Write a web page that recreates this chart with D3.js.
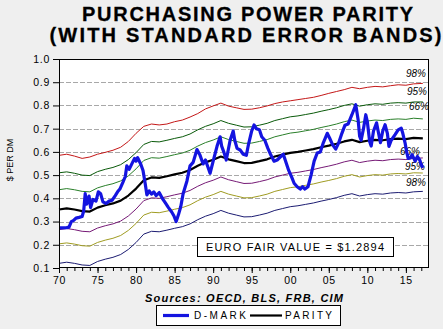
<!DOCTYPE html>
<html><head><meta charset="utf-8">
<script src="https://cdn.jsdelivr.net/npm/d3@7"></script>
<style>
html,body{margin:0;padding:0;background:#efefef;}
svg{display:block;font-family:"Liberation Sans",Arial,sans-serif;}
</style></head><body>
<svg id="c" width="443" height="329"></svg>
<script>
// ---------- DATA ----------
const titleLines = ["PURCHASING POWER PARITY", "(WITH STANDARD ERROR BANDS)"];
const yAxisLabel = "$ PER DM";
const sourceText = "Sources:  OECD, BLS, FRB, CIM";
const boxText = "EURO FAIR VALUE = $1.2894";
const legendLabels = ["D-MARK", "PARITY"];

const yTicks = [0.1,0.2,0.3,0.4,0.5,0.6,0.7,0.8,0.9,1.0];
const yGrid = [0.2,0.3,0.4,0.5,0.6,0.7,0.8,0.9];
const xMajorTicks = [1970,1975,1980,1985,1990,1995,2000,2005,2010,2015];
const xMajorLabels = ["70","75","80","85","90","95","00","05","10","15"];
const xMinorTicks = [1970,1971,1972,1973,1974,1975,1976,1977,1978,1979,1980,1981,1982,1983,1984,1985,1986,1987,1988,1989,1990,1991,1992,1993,1994,1995,1996,1997,1998,1999,2000,2001,2002,2003,2004,2005,2006,2007,2008,2009,2010,2011,2012,2013,2014,2015,2016,2017];

const bandYears = [1970,1971,1972,1973,1974,1975,1976,1977,1978,1979,
  1980,1981,1982,1983,1984,1985,1986,1987,1988,1989,
  1990,1991,1992,1993,1994,1995,1996,1997,1998,1999,
  2000,2001,2002,2003,2004,2005,2006,2007,2008,2009,
  2010,2011,2012,2013,2014,2015,2016,2017.2];

const parity = [.352,.357,.352,.345,.343,.360,.370,.378,.390,.412,
  .442,.478,.490,.488,.495,.503,.510,.522,.540,.555,
  .566,.580,.568,.560,.552,.553,.560,.568,.580,.588,
  .596,.600,.606,.612,.620,.627,.635,.645,.652,.642,
  .648,.652,.650,.655,.657,.655,.660,.658];

const band98Up = [.585,.590,.582,.572,.578,.590,.598,.607,.620,.645,
  .680,.710,.720,.716,.720,.730,.737,.750,.765,.785,
  .798,.810,.797,.790,.783,.784,.790,.798,.808,.815,
  .820,.825,.830,.835,.843,.852,.860,.868,.878,.872,
  .878,.882,.880,.885,.889,.887,.893,.895];

const band95Up = [.510,.514,.508,.500,.498,.515,.525,.533,.545,.567,
  .597,.632,.645,.643,.650,.658,.665,.677,.695,.710,
  .721,.735,.723,.715,.707,.708,.715,.723,.735,.743,
  .751,.755,.761,.767,.775,.782,.790,.800,.807,.797,
  .803,.807,.805,.810,.812,.810,.815,.815];

const band66Up = [.437,.442,.437,.430,.428,.445,.455,.463,.475,.497,
  .527,.563,.575,.573,.580,.588,.595,.607,.625,.640,
  .651,.665,.653,.645,.637,.638,.645,.653,.665,.673,
  .681,.685,.691,.697,.705,.712,.720,.730,.737,.727,
  .733,.737,.735,.740,.742,.740,.745,.742];

const band66Lo = [.265,.270,.265,.258,.256,.272,.282,.290,.302,.324,
  .354,.390,.402,.400,.407,.415,.422,.434,.452,.467,
  .478,.492,.480,.472,.464,.465,.472,.480,.492,.500,
  .508,.512,.518,.524,.532,.539,.547,.557,.564,.554,
  .560,.564,.562,.567,.569,.567,.572,.574];

const band95Lo = [.204,.208,.203,.196,.194,.210,.220,.228,.240,.262,
  .292,.328,.340,.338,.345,.353,.360,.372,.390,.405,
  .416,.430,.418,.410,.402,.403,.410,.418,.430,.438,
  .446,.450,.456,.462,.470,.477,.485,.495,.502,.492,
  .498,.502,.500,.505,.507,.505,.510,.509];

const band98Lo = [.120,.125,.120,.113,.111,.128,.138,.146,.158,.180,
  .210,.246,.258,.256,.263,.271,.278,.290,.308,.323,
  .334,.348,.336,.328,.320,.321,.328,.336,.348,.356,
  .364,.368,.374,.380,.388,.395,.403,.413,.420,.410,
  .416,.420,.418,.423,.425,.423,.428,.430];

// D-MARK: [year, $ per DM]
const dmark = [
 [1970.0,.273],[1971.0,.274],[1971.3,.276],[1971.6,.300],[1971.9,.305],[1972.2,.315],[1972.6,.318],[1973.0,.322],
 [1973.2,.345],[1973.4,.420],[1973.6,.375],[1973.9,.410],[1974.1,.360],[1974.4,.395],[1974.8,.388],[1975.1,.428],
 [1975.4,.420],[1975.7,.385],[1976.1,.378],[1976.5,.388],[1976.9,.392],[1977.3,.412],[1977.6,.428],[1977.9,.440],
 [1978.3,.470],[1978.6,.494],[1978.8,.540],[1979.1,.525],[1979.4,.545],[1979.8,.572],[1980.0,.560],[1980.2,.575],
 [1980.6,.548],[1980.9,.520],[1981.2,.460],[1981.4,.415],[1981.7,.432],[1982.0,.418],[1982.3,.428],[1982.6,.412],
 [1983.0,.425],[1983.4,.400],[1983.8,.380],[1984.2,.360],[1984.6,.342],[1984.9,.325],[1985.2,.300],[1985.5,.330],
 [1985.8,.365],[1986.1,.420],[1986.6,.475],[1987.0,.540],[1987.4,.555],[1987.9,.610],[1988.3,.585],[1988.7,.548],
 [1989.0,.565],[1989.6,.508],[1990.0,.560],[1990.5,.624],[1990.9,.665],[1991.1,.625],[1991.4,.598],[1991.7,.565],
 [1992.2,.650],[1992.6,.690],[1992.8,.650],[1993.1,.615],[1993.5,.608],[1993.9,.590],[1994.3,.585],[1994.6,.635],
 [1995.0,.690],[1995.3,.716],[1995.6,.700],[1996.0,.695],[1996.3,.665],[1996.7,.650],[1997.1,.615],[1997.5,.585],
 [1997.9,.560],[1998.3,.565],[1998.7,.578],[1999.1,.590],[1999.4,.560],[1999.8,.520],[2000.2,.490],[2000.5,.465],
 [2000.9,.450],[2001.3,.440],[2001.6,.450],[2001.9,.440],[2002.3,.450],[2002.7,.500],[2003.1,.560],[2003.5,.595],
 [2003.9,.600],[2004.3,.640],[2004.8,.680],[2005.1,.660],[2005.5,.630],[2005.9,.612],[2006.3,.640],[2006.7,.680],
 [2007.1,.715],[2007.5,.720],[2008.0,.760],[2008.5,.803],[2008.8,.740],[2009.0,.668],[2009.2,.650],[2009.5,.700],
 [2009.8,.760],[2010.0,.730],[2010.3,.645],[2010.5,.625],[2010.8,.690],[2011.2,.725],[2011.4,.690],[2011.7,.640],
 [2012.0,.690],[2012.3,.717],[2012.6,.680],[2012.8,.624],[2013.1,.650],[2013.6,.674],[2014.0,.695],[2014.4,.702],
 [2014.6,.680],[2014.9,.638],[2015.1,.600],[2015.3,.572],[2015.6,.575],[2015.8,.588],[2016.2,.560],[2016.5,.580],
 [2016.8,.565],[2017.0,.545],[2017.2,.531]
];

const bands = [
  {name:"98% up", values:band98Up, color:"#c41818", label:"98%", lx:426, ly:-6},
  {name:"95% up", values:band95Up, color:"#0a5a0a", label:"95%", lx:427, ly:-7},
  {name:"66% up", values:band66Up, color:"#2a7f2a", label:"66%", lx:429, ly:-9},
  {name:"66% lo", values:band66Lo, color:"#761a76", label:"66%", lx:420, ly:-3},
  {name:"95% lo", values:band95Lo, color:"#a09c22", label:"95%", lx:425, ly:-3},
  {name:"98% lo", values:band98Lo, color:"#1c1c72", label:"98%", lx:426, ly:-5}
];

// ---------- CHART ----------
const svg = d3.select("#c");
const W = 443, H = 329;
const L = 59, R = 429, T = 59, B = 268;
const x = d3.scaleLinear().domain([1970, 2018]).range([L, R]);
const y = d3.scaleLinear().domain([0.1, 1.0]).range([B, T]);

svg.append("rect").attr("width", W).attr("height", H).attr("fill", "#efefef");

// title
const tl = [{t:titleLines[0], cx:247.5, by:21, len:331}, {t:titleLines[1], cx:245.5, by:42, len:392}];
svg.selectAll("text.title").data(tl).join("text")
  .attr("class","title")
  .attr("x", d=>d.cx).attr("y", d=>d.by)
  .attr("text-anchor","middle")
  .attr("textLength", d=>d.len).attr("lengthAdjust","spacing")
  .attr("font-size", 20).attr("font-weight","bold").attr("fill","#000")
  .attr("stroke","#000").attr("stroke-width",0.3)
  .text(d=>d.t);

// plot background
svg.append("rect").attr("x", L).attr("y", T).attr("width", R-L).attr("height", B-T).attr("fill", "#fff");

// grid
svg.append("g").selectAll("line").data(yGrid).join("line")
  .attr("x1", L).attr("x2", R)
  .attr("y1", d=>Math.round(y(d))+0.5).attr("y2", d=>Math.round(y(d))+0.5)
  .attr("stroke", "#a8a8a8").attr("stroke-width", 1).attr("stroke-dasharray", "5,2");

// band lines
const line = d3.line().x(d=>x(d[0])).y(d=>y(d[1]));
const labelG = svg.append("g");
bands.forEach(b => {
  const pts = bandYears.map((yr,i)=>[yr, b.values[i]]);
  svg.append("path").attr("d", line(pts)).attr("fill","none")
    .attr("stroke", b.color).attr("stroke-width", 1);
});
bands.forEach(b => {
  labelG.append("text")
    .attr("x", b.lx).attr("y", y(b.values[b.values.length-1]) + b.ly)
    .attr("text-anchor","end").attr("font-size", 10).attr("font-style","italic")
    .attr("fill","#000").text(b.label);
});

// parity
svg.append("path").attr("d", line(bandYears.map((yr,i)=>[yr, parity[i]])))
  .attr("fill","none").attr("stroke","#000").attr("stroke-width", 2.2).attr("stroke-linejoin","round");

// D-mark
svg.append("path").attr("d", line(dmark))
  .attr("fill","none").attr("stroke","#1414e0").attr("stroke-width", 3.2).attr("stroke-linejoin","round");

// euro box
const bx = 197, by0 = 237, bw = 196, bh = 19;
svg.append("rect").attr("x", bx+0.5).attr("y", by0+0.5).attr("width", bw).attr("height", bh)
  .attr("fill","#fff").attr("stroke","#000").attr("stroke-width",1);
svg.append("text").attr("x", 206).attr("y", 250.5)
  .attr("textLength", 178).attr("lengthAdjust","spacing")
  .attr("font-size", 11).attr("fill","#000").text(boxText);

// frame
svg.append("rect").attr("x", L+0.5).attr("y", T+0.5).attr("width", R-L-1).attr("height", B-T-1)
  .attr("fill","none").attr("stroke","#000").attr("stroke-width",1);

// y axis
const yAxis = svg.append("g").attr("transform", `translate(${L},0)`)
  .call(d3.axisLeft(y).tickValues(yTicks).tickSize(6).tickPadding(3).tickFormat(d3.format(".1f")));
yAxis.select(".domain").remove();
yAxis.selectAll("text").attr("font-size", 10.5).attr("letter-spacing", "0.7px").attr("fill","#000")
  .attr("font-family",'"Liberation Sans",Arial,sans-serif');
yAxis.selectAll("line").attr("stroke","#000");

// x axis minor
const xMinor = svg.append("g").attr("transform", `translate(0,${B})`)
  .call(d3.axisBottom(x).tickValues(xMinorTicks).tickSize(3).tickFormat(""));
xMinor.select(".domain").remove();
xMinor.selectAll("line").attr("stroke","#000");
// x axis major
const xMajor = svg.append("g").attr("transform", `translate(0,${B})`)
  .call(d3.axisBottom(x).tickValues(xMajorTicks).tickSize(5).tickPadding(4)
    .tickFormat((d,i)=>xMajorLabels[i]));
xMajor.select(".domain").remove();
xMajor.selectAll("line").attr("stroke","#000");
xMajor.selectAll("text").attr("font-size", 10.5).attr("letter-spacing","0.7px").attr("fill","#000")
  .attr("font-family",'"Liberation Sans",Arial,sans-serif');

// y label
svg.append("text").attr("transform", "translate(13,160) rotate(-90)")
  .attr("text-anchor","middle").attr("font-size", 9).attr("fill","#000").text(yAxisLabel);

// sources
svg.append("text").attr("x", 145).attr("y", 302)
  .attr("textLength", 198).attr("lengthAdjust","spacing")
  .attr("font-size", 11).attr("font-weight","bold").attr("font-style","italic").attr("fill","#000")
  .text(sourceText);

// legend
const lg = svg.append("g");
lg.append("rect").attr("x", 156.5).attr("y", 305.5).attr("width", 184).attr("height", 20)
  .attr("fill","#fff").attr("stroke","#000").attr("stroke-width",1);
lg.append("line").attr("x1",163).attr("x2",189).attr("y1",315.5).attr("y2",315.5)
  .attr("stroke","#1414e0").attr("stroke-width",3.2);
lg.append("text").attr("x",194).attr("y",319).attr("textLength",52).attr("lengthAdjust","spacing")
  .attr("font-size",10).attr("fill","#000").text(legendLabels[0]);
lg.append("line").attr("x1",250).attr("x2",282).attr("y1",315.5).attr("y2",315.5)
  .attr("stroke","#000").attr("stroke-width",2.2);
lg.append("text").attr("x",285).attr("y",319).attr("textLength",47).attr("lengthAdjust","spacing")
  .attr("font-size",10).attr("fill","#000").text(legendLabels[1]);
</script>
</body></html>
